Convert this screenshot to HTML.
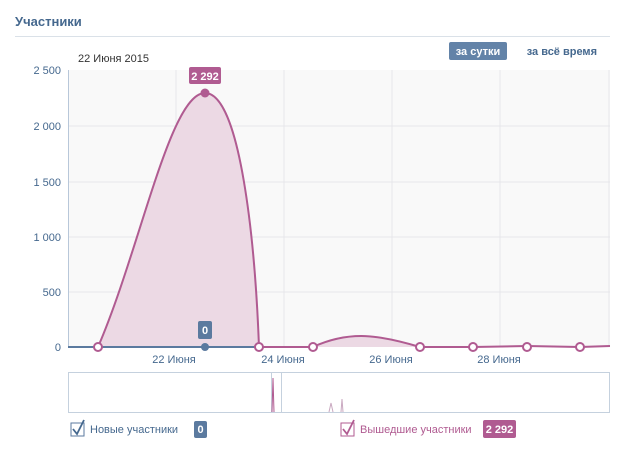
<!DOCTYPE html>
<html><head><meta charset="utf-8"><style>
body{margin:0;background:#fff;width:617px;height:456px;overflow:hidden;font-family:"Liberation Sans",sans-serif}
</style></head><body>
<svg width="617" height="456" xmlns="http://www.w3.org/2000/svg" font-family="Liberation Sans, sans-serif">
<text x="15" y="26" font-size="13" font-weight="bold" fill="#45688e">Участники</text>
<line x1="15" y1="36.5" x2="610" y2="36.5" stroke="#dae1e8"/>
<text x="78" y="62" font-size="11" fill="#333">22 Июня 2015</text>
<rect x="449" y="42" width="58" height="18" rx="2" fill="#6383a8"/>
<text x="478" y="55" font-size="11" font-weight="bold" fill="#fff" text-anchor="middle">за сутки</text>
<text x="597" y="55" font-size="11" font-weight="bold" fill="#45688e" text-anchor="end">за всё время</text>
<rect x="68" y="70" width="542" height="277" fill="#f9f9f9"/>
<g stroke="#e6e6ea">
<line x1="68" y1="126" x2="610" y2="126"/><line x1="68" y1="182" x2="610" y2="182"/><line x1="68" y1="237" x2="610" y2="237"/><line x1="68" y1="292" x2="610" y2="292"/>
<line x1="176" y1="70" x2="176" y2="347"/><line x1="284" y1="70" x2="284" y2="347"/><line x1="392" y1="70" x2="392" y2="347"/><line x1="500" y1="70" x2="500" y2="347"/><line x1="609" y1="70" x2="609" y2="347"/>
</g>
<line x1="68.5" y1="70" x2="68.5" y2="347" stroke="#b8c7d9"/>
<g font-size="11" fill="#45688e" text-anchor="end">
<text x="61" y="74">2 500</text><text x="61" y="130">2 000</text><text x="61" y="186">1 500</text><text x="61" y="241">1 000</text><text x="61" y="296">500</text><text x="61" y="351">0</text>
</g>
<g font-size="11" fill="#45688e" text-anchor="middle">
<text x="174" y="363">22 Июня</text><text x="283" y="363">24 Июня</text><text x="391" y="363">26 Июня</text><text x="499" y="363">28 Июня</text>
</g>
<path d="M68,347 L98,347 C140,250 170,93 205,93 C240,93 255,240 259,347 L313,347 C350,330 380,335 420,347 L610,347 Z" fill="#ecd9e4"/>
<path d="M68,347 L98,347 C140,250 170,93 205,93 C240,93 255,240 259,347 L313,347 C350,330 380,335 420,347 L473,347 L527,346 L580,347 L610,346" fill="none" stroke="#b05b91" stroke-width="2"/>
<line x1="68" y1="347" x2="259" y2="347" stroke="#5b7a9f" stroke-width="2"/>
<g fill="#fff" stroke="#b05b91" stroke-width="2">
<circle cx="98" cy="347" r="4"/><circle cx="259" cy="347" r="4"/><circle cx="313" cy="347" r="4"/><circle cx="420" cy="347" r="4"/><circle cx="473" cy="347" r="4"/><circle cx="527" cy="347" r="4"/><circle cx="580" cy="347" r="4"/>
</g>
<circle cx="205" cy="93" r="4.5" fill="#b05b91"/>
<circle cx="205" cy="347" r="4" fill="#5b7a9f"/>
<rect x="189" y="67" width="32" height="17" rx="2" fill="#b05b91"/>
<text x="205" y="80" font-size="11" font-weight="bold" fill="#fff" text-anchor="middle">2 292</text>
<rect x="198" y="321" width="14" height="18" rx="2" fill="#5b7a9f"/>
<text x="205" y="334" font-size="11" font-weight="bold" fill="#fff" text-anchor="middle">0</text>
<rect x="68.5" y="372.5" width="541" height="40" fill="#fff" stroke="#c5d1de"/>
<rect x="271.5" y="372.5" width="10" height="40" fill="none" stroke="#c5d1de"/>
<path d="M272,412 L273,378 L274,412" stroke="#b05b91" fill="none"/>
<path d="M329,412 L331,403 L333,412 M341,412 L342,399 L343,412" stroke="#c9a8c0" fill="none"/>
<rect x="71" y="423" width="13" height="13" fill="#fff" stroke="#5b7a9f"/>
<path d="M73,429 L77,434 L84,420" stroke="#45688e" stroke-width="1.8" fill="none"/>
<text x="90" y="433" font-size="11" fill="#45688e">Новые участники</text>
<rect x="194" y="421" width="13" height="17" rx="2" fill="#5b7a9f"/>
<text x="200.5" y="433" font-size="11" font-weight="bold" fill="#fff" text-anchor="middle">0</text>
<rect x="341" y="423" width="13" height="13" fill="#fff" stroke="#b05b91"/>
<path d="M343,429 L347,434 L354,420" stroke="#b05b91" stroke-width="1.8" fill="none"/>
<text x="360" y="433" font-size="11" fill="#b05b91">Вышедшие участники</text>
<rect x="483" y="420" width="33" height="18" rx="2" fill="#b05b91"/>
<text x="499.5" y="433" font-size="11" font-weight="bold" fill="#fff" text-anchor="middle">2 292</text>
</svg>
</body></html>
